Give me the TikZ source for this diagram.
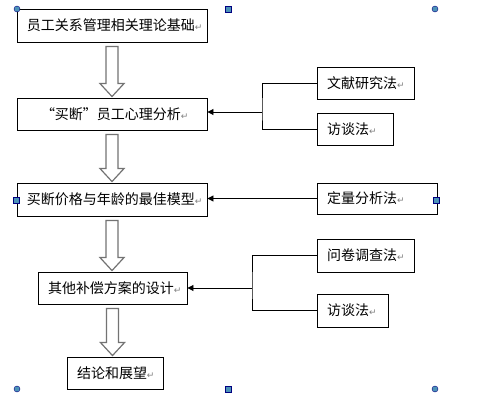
\documentclass[tikz,border=0pt]{standalone}
\usepackage{fontspec}
\setmainfont{Noto Sans CJK SC}
\newfontfamily\dejavu{DejaVu Sans}
\usetikzlibrary{arrows.meta,calc}
\newcommand\pmk{{\dejavu\fontsize{9}{9}\selectfont\color{black!50}↵}}
\tikzset{
  box/.style={draw=black, line width=0.9pt, fill=white, inner xsep=10pt, inner ysep=0pt,
    align=left, font=\fontsize{14}{16}\selectfont},
  link/.style={draw=black, line width=0.9pt},
  tip/.style={-{Triangle[length=6pt,width=6pt]}},
  hollow/.style={draw=black!55, line width=1.2pt, fill=white, line join=miter},
  handle/.style={fill=blue!35!cyan!60!black!70, draw=blue!50!black, line width=0.4pt}
}
\newcommand\hollowarrow[2]{%
  \draw[hollow] let \p1=(#1.south), \p2=(#2.north) in
    (\x1-6pt,\y1-4pt) -- (\x1+6pt,\y1-4pt) -- (\x1+6pt,\y2+14pt) -- (\x1+12pt,\y2+14pt)
    -- (\x1,\y2+1pt) -- (\x1-12pt,\y2+14pt) -- (\x1-6pt,\y2+14pt) -- cycle;}
\begin{document}
\begin{tikzpicture}[x=1pt,y=-1pt]
\useasboundingbox (0,0) rectangle (485,402);
% left column
\node[box, minimum width=190pt, minimum height=33pt, text width=170pt] (b1) at (112,25.5) {员工关系管理相关理论基础\pmk};
\node[box, minimum width=190pt, minimum height=32pt, text width=170pt] (b2) at (112,114) {\hspace*{14pt}“买断”员工心理分析\pmk};
\node[box, minimum width=190pt, minimum height=33pt, text width=170pt] (b3) at (112,199.5) {买断价格与年龄的最佳模型\pmk};
\node[box, minimum width=149pt, minimum height=32pt, text width=129pt] (b4) at (112.5,288) {其他补偿方案的设计\pmk};
\node[box, minimum width=96pt, minimum height=32pt, text width=76pt] (b5) at (115,373) {结论和展望\pmk};
% right column
\node[box, minimum width=97pt, minimum height=32pt, text width=77pt] (r1) at (365.5,83) {文献研究法\pmk};
\node[box, minimum width=76pt, minimum height=32pt, text width=56pt] (r2) at (355,129) {访谈法\pmk};
\node[box, minimum width=120pt, minimum height=31pt, text width=100pt] (r3) at (377,198.5) {定量分析法\pmk};
\node[box, minimum width=97pt, minimum height=33pt, text width=77pt] (r4) at (365.5,255.5) {问卷调查法\pmk};
\node[box, minimum width=71pt, minimum height=33pt, text width=51pt] (r5) at (352.5,310.5) {访谈法\pmk};
% hollow arrows
\hollowarrow{b1}{b2}
\hollowarrow{b2}{b3}
\hollowarrow{b3}{b4}
\hollowarrow{b4}{b5}
% connectors
\coordinate (j1) at (262,112);
\coordinate (j2) at (252,288);
\draw[link] (r1.west) -| (j1) |- (r2.west);
\draw[link,tip] (j1) -- (j1 -| b2.east);
\draw[link,tip] (r3.west) -- (r3.west -| b3.east);
\draw[link] (r4.west) -| (j2) |- (r5.west);
\draw[link,tip] (j2) -- (j2 -| b4.east);
% selection handles
\foreach \p in {(17,9),(435,9),(17,389),(435,389)} \filldraw[handle] \p circle (3pt);
\foreach \p in {(228,9),(16,200),(436,200),(228,389)} \filldraw[handle] \p ++(-3,-3) rectangle ++(6,6);
\end{tikzpicture}
\end{document}
